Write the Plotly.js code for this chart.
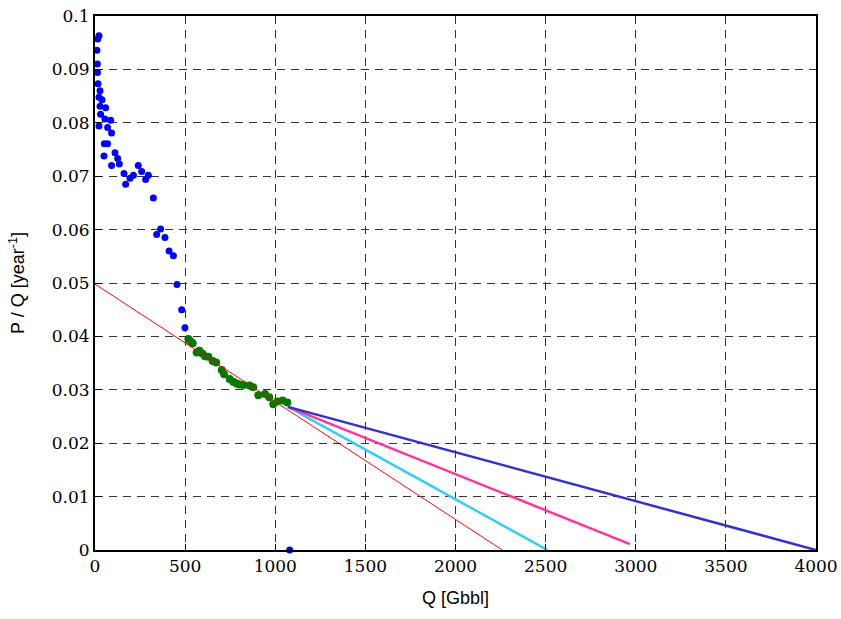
<!DOCTYPE html>
<html>
<head>
<meta charset="utf-8">
<script src="https://cdn.plot.ly/plotly-3.0.1.min.js"></script>
<style>html,body{margin:0;padding:0;background:#fff;}#chart{width:841px;height:619px;}</style>
</head>
<body>
<div id="chart"></div>
<script>
// Historical data (blue) : cumulative production Q [Gbbl] vs P/Q [1/year]
const blueQ = [11,13,15,22,14,17,28,22,39,28,59,31,55,87,22,70,92,52,70,50,111,126,135,92,161,170,194,213,240,259,281,296,324,342,364,388,411,435,455,481,499,1080];
const blueY = [0.0936,0.0910,0.0957,0.0963,0.0894,0.0873,0.0860,0.0848,0.0843,0.0831,0.0828,0.0816,0.0807,0.0805,0.0794,0.0791,0.0781,0.0761,0.0761,0.0738,0.0744,0.0733,0.0723,0.0720,0.0705,0.0685,0.0696,0.0702,0.0720,0.0709,0.0694,0.0702,0.0659,0.0591,0.0601,0.0585,0.0560,0.0551,0.0497,0.0450,0.0416,0.0];
// Fitted data (green)
const greenQ = [518,530,542,564,579,595,610,629,653,672,703,716,747,767,786,800,822,857,878,906,943,967,989,1012,1041,1067];
const greenY = [0.0395,0.0391,0.0387,0.0370,0.0373,0.0368,0.0363,0.0362,0.0354,0.0351,0.0337,0.0329,0.0320,0.0315,0.0312,0.0310,0.0309,0.0308,0.0305,0.0290,0.0292,0.0286,0.0273,0.0278,0.0280,0.0276];
// Linear fit (red)
const fitQ = [0, 2260];
const fitY = [0.0498, 0.0];
// Projection lines
const projStartQ = 1071, projStartY = 0.0268;
const cyanEnd = [2510, 0.0];
const pinkEnd = [2968, 0.0011];
const navyEnd = [4000, 0.0];

const traces = [
  {x: blueQ, y: blueY, mode: 'markers', type: 'scatter', marker: {color: '#0000ff', size: 7}, cliponaxis: false},
  {x: greenQ, y: greenY, mode: 'markers', type: 'scatter', marker: {color: '#007a00', size: 8}},
  {x: fitQ, y: fitY, mode: 'lines', type: 'scatter', line: {color: '#ff0000', width: 1}},
  {x: [projStartQ, cyanEnd[0]], y: [projStartY, cyanEnd[1]], mode: 'lines', type: 'scatter', line: {color: '#33ccff', width: 2.5}},
  {x: [projStartQ, pinkEnd[0]], y: [projStartY, pinkEnd[1]], mode: 'lines', type: 'scatter', line: {color: '#ff3399', width: 2.5}},
  {x: [projStartQ, navyEnd[0]], y: [projStartY, navyEnd[1]], mode: 'lines', type: 'scatter', line: {color: '#3333cc', width: 2.5}}
];

const serif = 'DejaVu Serif';
const layout = {
  width: 841, height: 619,
  margin: {l: 95, r: 25, t: 16, b: 69},
  showlegend: false,
  font: {family: serif, size: 17, color: '#000'},
  paper_bgcolor: '#fff', plot_bgcolor: '#fff',
  xaxis: {
    range: [0, 4000], dtick: 500, tick0: 0,
    showgrid: true, gridcolor: '#333', griddash: '8px,6px', gridwidth: 1,
    zeroline: false, showline: true, linecolor: '#000', linewidth: 2, mirror: true,
    ticks: 'inside', ticklen: 6, tickcolor: '#000',
    tickfont: {family: serif, size: 17, color: '#000'},
    title: {text: 'Q [Gbbl]', font: {family: 'Liberation Sans', size: 18, color: '#000'}, standoff: 16}
  },
  yaxis: {
    range: [0, 0.1], dtick: 0.01, tick0: 0,
    showgrid: true, gridcolor: '#333', griddash: '8px,6px', gridwidth: 1,
    zeroline: false, showline: true, linecolor: '#000', linewidth: 2, mirror: true,
    ticks: 'inside', ticklen: 6, tickcolor: '#000',
    tickfont: {family: serif, size: 17, color: '#000'},
    title: {text: 'P / Q [year<sup>-1</sup>]', font: {family: 'Liberation Sans', size: 18, color: '#000'}, standoff: 22}
  }
};

Plotly.newPlot('chart', traces, layout, {displayModeBar: false, staticPlot: true});
</script>
</body>
</html>
